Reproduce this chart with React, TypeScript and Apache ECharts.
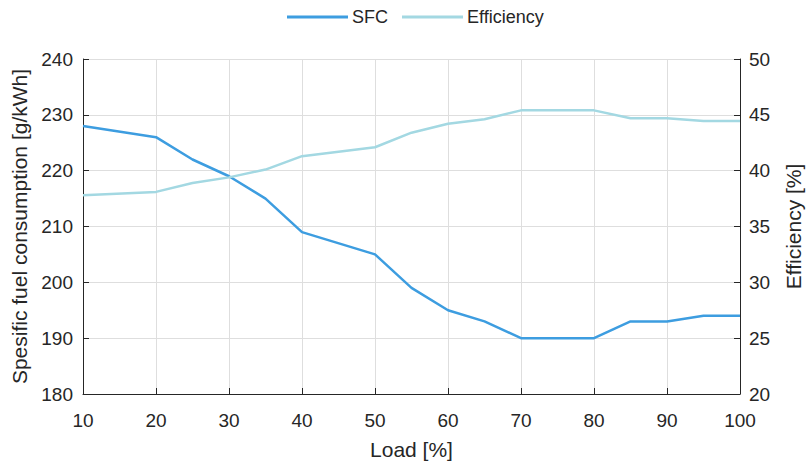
import React, { useEffect, useRef } from "react";
import * as echarts from "echarts";

const loads = [10, 20, 25, 30, 35, 40, 50, 55, 60, 65, 70, 80, 85, 90, 95, 100];
const sfc = [228, 226, 222, 219, 215, 209, 205, 199, 195, 193, 190, 190, 193, 193, 194, 194];
const efficiency = [37.8, 38.1, 38.9, 39.4, 40.1, 41.3, 42.1, 43.4, 44.2, 44.6, 45.4, 45.4, 44.7, 44.7, 44.45, 44.45];
const xTicks = { min: 10, max: 100, interval: 10 };
const leftTicks = { min: 180, max: 240, interval: 10 };
const rightTicks = { min: 20, max: 50, interval: 5 };

const FONT = "'Liberation Sans', Arial, sans-serif";
const AX = "#262626";

export default function App() {
  const ref = useRef<HTMLDivElement>(null);
  useEffect(() => {
    if (!ref.current) return;
    const chart = echarts.init(ref.current, undefined, { renderer: "svg" });
    const axisCommon = {
      axisLine: { show: true, onZero: false, lineStyle: { color: AX, width: 1 } },
      axisTick: { show: true, inside: true, length: 6, lineStyle: { color: AX } },
      axisLabel: { color: "#262626", fontSize: 19, fontFamily: FONT },
      nameTextStyle: { color: "#262626", fontSize: 21, fontFamily: FONT },
      splitLine: { show: true, lineStyle: { color: "#dedede", width: 1 } },
    };
    chart.setOption({
      animation: false,
      textStyle: { fontFamily: FONT },
      legend: {
        top: 3,
        left: 282,
        icon: "rect",
        itemWidth: 61,
        itemHeight: 3,
        itemGap: 14,
        textStyle: { fontSize: 18, color: "#262626", fontFamily: FONT, padding: [0, 0, 0, -1] },
        data: ["SFC", "Efficiency"],
      },
      grid: { left: 83, right: 66, top: 59, bottom: 67, containLabel: false, outerBoundsMode: "none" },
      xAxis: {
        type: "value",
        ...xTicks,
        name: "Load [%]",
        nameLocation: "middle",
        nameGap: 45,
        ...axisCommon,
        axisLabel: { ...axisCommon.axisLabel, margin: 17 },
      },
      yAxis: [
        {
          type: "value",
          ...leftTicks,
          name: "Spesific fuel consumption [g/kWh]",
          nameLocation: "middle",
          nameGap: 51,
          ...axisCommon,
          axisLabel: { ...axisCommon.axisLabel, margin: 10 },
        },
        {
          type: "value",
          position: "right",
          ...rightTicks,
          name: "Efficiency [%]",
          nameLocation: "middle",
          nameGap: 43,
          ...axisCommon,
          splitLine: { show: false },
          axisLabel: { ...axisCommon.axisLabel, margin: 9 },
        },
      ],
      series: [
        {
          name: "SFC",
          type: "line",
          yAxisIndex: 0,
          symbol: "none",
          data: loads.map((x, i) => [x, sfc[i]]),
          lineStyle: { color: "#3d9de0", width: 2.5 },
          itemStyle: { color: "#3d9de0" },
        },
        {
          name: "Efficiency",
          type: "line",
          yAxisIndex: 1,
          symbol: "none",
          data: loads.map((x, i) => [x, efficiency[i]]),
          lineStyle: { color: "#a3d8e2", width: 2.5 },
          itemStyle: { color: "#a3d8e2" },
        },
      ],
    });
    return () => chart.dispose();
  }, []);
  return <div ref={ref} style={{ width: 806, height: 461, position: "absolute", left: 0, top: 0 }} />;
}
